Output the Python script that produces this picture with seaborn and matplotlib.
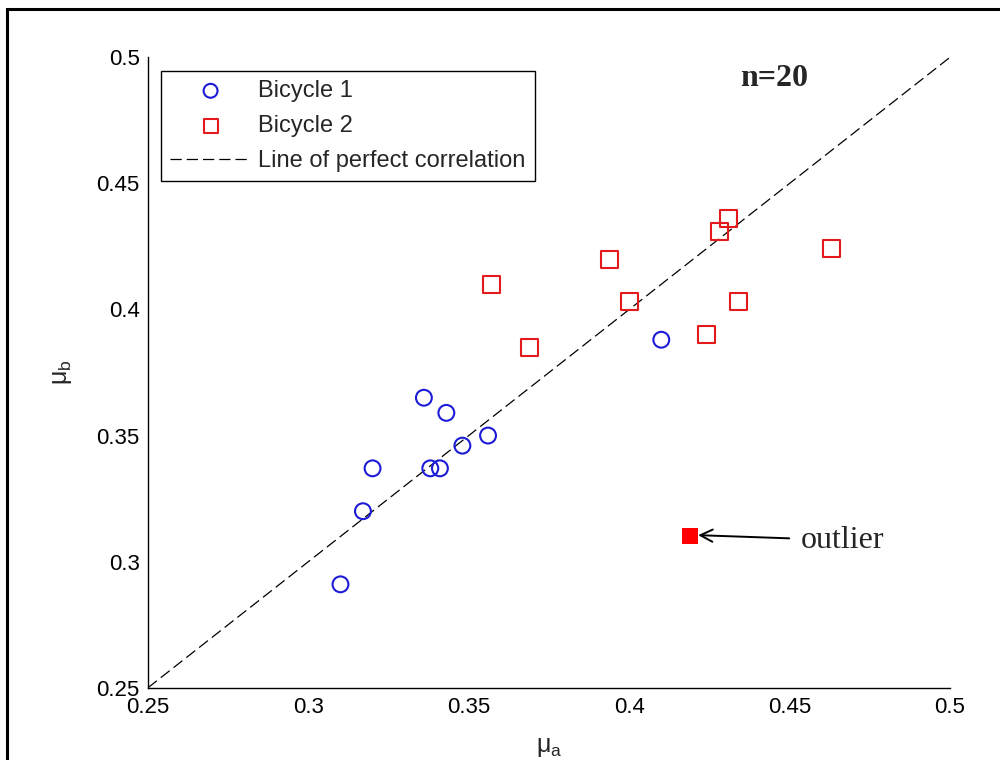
import matplotlib
matplotlib.use("Agg")
import matplotlib.pyplot as plt
import seaborn as sns
import pandas as pd
from matplotlib.patches import Rectangle

# Friction coefficients measured on the two bicycles
b1_mu_a = [0.310, 0.317, 0.320, 0.336, 0.343, 0.338, 0.341, 0.348, 0.356, 0.410]
b1_mu_b = [0.291, 0.320, 0.337, 0.365, 0.359, 0.337, 0.337, 0.346, 0.350, 0.388]
b2_mu_a = [0.357, 0.369, 0.394, 0.400, 0.424, 0.428, 0.431, 0.434, 0.463]
b2_mu_b = [0.410, 0.385, 0.420, 0.403, 0.390, 0.431, 0.436, 0.403, 0.424]
outlier_mu_a = [0.419]
outlier_mu_b = [0.310]
ref_line = [0.25, 0.5]
ticks = [0.25, 0.3, 0.35, 0.4, 0.45, 0.5]
tick_labels = ["0.25", "0.3", "0.35", "0.4", "0.45", "0.5"]

sns.set_style("white")
plt.rcParams["font.family"] = ["Liberation Sans", "DejaVu Sans"]
plt.rcParams["mathtext.fontset"] = "custom"
plt.rcParams["mathtext.rm"] = "Liberation Sans"
plt.rcParams["mathtext.it"] = "Liberation Sans"

BLUE = "#1c1cd6"
RED = "#e3191c"

fig = plt.figure(figsize=(10, 7.6), dpi=100)
ax = fig.add_axes([0.148, 0.0951, 0.802, 0.8295])

df1 = pd.DataFrame({"mu_a": b1_mu_a, "mu_b": b1_mu_b})
df2 = pd.DataFrame({"mu_a": b2_mu_a, "mu_b": b2_mu_b})
dfo = pd.DataFrame({"mu_a": outlier_mu_a, "mu_b": outlier_mu_b})
dfl = pd.DataFrame({"x": ref_line, "y": ref_line})

sns.scatterplot(data=df1, x="mu_a", y="mu_b", ax=ax, marker="o", s=130,
                facecolor="none", edgecolor=BLUE, linewidth=1.5,
                label="Bicycle 1", zorder=3)
sns.scatterplot(data=df2, x="mu_a", y="mu_b", ax=ax, marker="s", s=150,
                facecolor="none", edgecolor=RED, linewidth=1.5,
                label="Bicycle 2", zorder=3)
sns.lineplot(data=dfl, x="x", y="y", ax=ax, color="black", linewidth=0.9,
             dashes=False, linestyle=(0, (9, 4)),
             label="Line of perfect correlation", zorder=2)
sns.scatterplot(data=dfo, x="mu_a", y="mu_b", ax=ax, marker="s", s=130,
                color="#ff0000", edgecolor="#ff0000", linewidth=0,
                legend=False, zorder=4)

ax.set_xlim(0.25, 0.5)
ax.set_ylim(0.25, 0.5)
ax.set_xticks(ticks)
ax.set_xticklabels(tick_labels)
ax.set_yticks(ticks)
ax.set_yticklabels(tick_labels)
ax.tick_params(axis="both", direction="in", length=7, width=1.0,
               labelsize=16, colors="black")
ax.tick_params(axis="y", pad=6)
ax.tick_params(axis="x", pad=7)
for side in ("top", "right"):
    ax.spines[side].set_visible(False)
for side in ("left", "bottom"):
    ax.spines[side].set_color("black")
    ax.spines[side].set_linewidth(1.0)

ax.set_xlabel(r"$\mathregular{\mu_a}$", fontsize=18, labelpad=12)
ax.set_ylabel(r"$\mathregular{\mu_b}$", fontsize=18, labelpad=16)

leg = ax.legend(loc="upper left", bbox_to_anchor=(0.0162, 0.979),
                fontsize=17, frameon=True, fancybox=False, handlelength=3.4,
                handletextpad=0.3, labelspacing=0.55, borderpad=0.4,
                borderaxespad=0)
leg.get_frame().set_edgecolor("black")
leg.get_frame().set_linewidth(1.0)
leg.get_frame().set_alpha(1)
for h in leg.legend_handles[:2]:
    h.set_sizes([100])

ax.text(0.4345, 0.4915, "n=20", fontsize=23, fontweight="bold",
        family=["Liberation Serif", "DejaVu Serif"], ha="left", va="center")
ax.annotate("outlier", xy=(0.4215, 0.3105), xytext=(0.4535, 0.3085),
            fontsize=23, family=["Liberation Serif", "DejaVu Serif"],
            va="center", ha="left",
            arrowprops=dict(arrowstyle="->", color="black", lw=1.4,
                            mutation_scale=22, shrinkA=6, shrinkB=0))

# frame around the whole figure
fig.patches.append(Rectangle((0.007, -0.05), 1.2, 1.038, transform=fig.transFigure,
                             fill=False, edgecolor="black", linewidth=2.2,
                             zorder=10))

fig.savefig("out.png", dpi=100)
